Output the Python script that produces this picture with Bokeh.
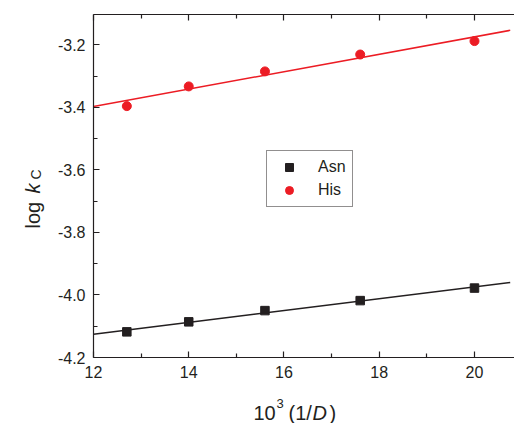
import math
import numpy as np
from bokeh.plotting import figure
from bokeh.layouts import row, column
from bokeh.models import LinearAxis, FixedTicker, Range1d, Label, Legend, LegendItem
from bokeh.embed import file_html
from bokeh.resources import INLINE

# ---- data ----
inv_d = [12.7, 14.0, 15.6, 17.6, 20.0]
asn_logk = [-4.118, -4.086, -4.050, -4.018, -3.978]
his_logk = [-3.396, -3.333, -3.285, -3.231, -3.188]
fit_range = [12.0, 20.75]
x_ticks = [12, 14, 16, 18, 20]
x_minor = [13, 15, 17, 19]
x_tick_labels = ["12", "14", "16", "18", "20"]
y_ticks = [-4.2, -4.0, -3.8, -3.6, -3.4, -3.2]
y_minor = [-4.1, -3.9, -3.7, -3.5, -3.3, -3.1]
y_tick_labels = ["-4.2", "-4.0", "-3.8", "-3.6", "-3.4", "-3.2"]

INK = "#231f20"
RED = "#ec1c24"
FONT = "Liberation Sans"

X0, X1 = 12.0, 20.84
Y0, Y1 = -4.2, -3.103

YT_W = 45          # width of y-title strip
XT_H = 28          # height of x-title strip
W, H = 514, 423

p = figure(width=W - YT_W, height=H - XT_H, x_range=Range1d(X0, X1), y_range=Range1d(Y0, Y1),
           output_backend="svg", toolbar_location=None, title=None,
           min_border_left=93 - YT_W, min_border_right=0, min_border_top=14,
           min_border_bottom=(H - XT_H) - 357)
p.outline_line_color = None
p.xgrid.grid_line_color = None
p.ygrid.grid_line_color = None

def style_axis(ax, ticks, minor, labels, show_labels=True):
    ax.ticker = FixedTicker(ticks=ticks, minor_ticks=minor)
    ax.major_label_overrides = dict(zip(ticks, labels))
    ax.major_tick_in = 6
    ax.major_tick_out = 0
    ax.minor_tick_in = 4
    ax.minor_tick_out = 0
    ax.axis_line_color = INK
    ax.axis_line_width = 1.2
    ax.major_tick_line_color = INK
    ax.major_tick_line_width = 1.2
    ax.minor_tick_line_color = INK
    ax.minor_tick_line_width = 1.2
    ax.major_label_text_font = FONT
    if show_labels:
        ax.major_label_text_font_size = "16px"
        ax.major_label_text_color = INK
        ax.major_label_standoff = 8
    else:
        ax.major_label_text_font_size = "1px"
        ax.major_label_text_color = None
        ax.major_label_standoff = 0

style_axis(p.xaxis[0], x_ticks, x_minor, x_tick_labels)
style_axis(p.yaxis[0], y_ticks, y_minor, y_tick_labels)
top = LinearAxis()
style_axis(top, x_ticks, x_minor, x_tick_labels, show_labels=False)
p.add_layout(top, "above")

# fit lines (least squares through the points)
asn_fit = np.polyval(np.polyfit(inv_d, asn_logk, 1), fit_range)
his_fit = np.polyval(np.polyfit(inv_d, his_logk, 1), fit_range)
p.line(fit_range, list(asn_fit), line_color=INK, line_width=1.5)
p.line(fit_range, list(his_fit), line_color=RED, line_width=1.5)

r_asn = p.scatter(inv_d, asn_logk, marker="square", size=8.5, fill_color=INK, line_color=INK)
r_his = p.scatter(inv_d, his_logk, marker="circle", size=9, fill_color=RED, line_color=RED)

legend = Legend(items=[LegendItem(label="Asn", renderers=[r_asn]),
                       LegendItem(label="His", renderers=[r_his])],
                location=(173, 150), padding=6, spacing=3, glyph_width=32, glyph_height=20,
                label_height=20, label_standoff=13, border_line_color=INK, border_line_width=1,
                background_fill_color="white", background_fill_alpha=1.0,
                label_text_font=FONT, label_text_font_size="16px", label_text_color=INK)
p.add_layout(legend)

def strip(w, h):
    f = figure(width=w, height=h, x_range=Range1d(0, 1), y_range=Range1d(0, 1), title=None,
               output_backend="svg", toolbar_location=None,
               x_axis_location=None, y_axis_location=None,
               min_border=0, min_border_left=0, min_border_right=0,
               min_border_top=0, min_border_bottom=0)
    f.outline_line_color = None
    f.xgrid.grid_line_color = None
    f.ygrid.grid_line_color = None
    return f

def lab(f, x, y, text, size="20px", style="normal", angle=0.0):
    # x, y in canvas pixels of the strip (from its top-left corner)
    f.add_layout(Label(x=x, y=y, x_units="canvas", y_units="canvas", text=text,
                       text_font=FONT, text_font_size=size,
                       text_font_style=style, text_color=INK, angle=angle,
                       text_align="left", text_baseline="alphabetic"))

# x title strip: 10^3 (1/D)
xt = strip(W - YT_W, XT_H)
ox, oy = YT_W, H - XT_H
BASE = 17   # baseline inside the strip
lab(xt, 253 - ox, BASE, "10")
lab(xt, 276 - ox, BASE - 9, "3", size="13px")
lab(xt, 288 - ox, BASE, "(1/")
lab(xt, 312 - ox, BASE, "D", style="italic")
lab(xt, 329 - ox, BASE, ")")

# y title strip: log k_C (rotated)
yt = strip(YT_W, H)
A = math.pi / 2
lab(yt, 32, 228, "log", angle=A)
lab(yt, 32, 193, "k", style="italic", angle=A)
lab(yt, 35, 179, "C", size="14px", angle=A)

layout = row(yt, column(p, xt, spacing=0), spacing=0)
open("out.html", "w").write(file_html(layout, INLINE))
